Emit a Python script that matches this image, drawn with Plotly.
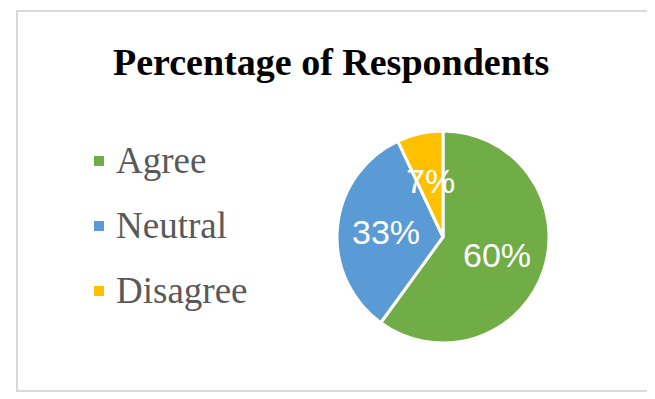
import math
import plotly.graph_objects as go

# Data
categories = ["Agree", "Neutral", "Disagree"]
values = [60, 33, 7]
colors = ["#70AD47", "#5B9BD5", "#FFC000"]
title_text = "Percentage of Respondents"

# The page body has an 8px margin; map window pixels into figure paper coords
OFF = 8
W, H = 655 - OFF, 399 - OFF


def px(x):
    return (x - OFF) / W


def py(y):
    return 1 - (y - OFF) / H


# Pie placement (window pixels)
PIE_L, PIE_R, PIE_T, PIE_B = 337, 549, 131, 343
CX, CY = (PIE_L + PIE_R) / 2, (PIE_T + PIE_B) / 2
RAD = (PIE_R - PIE_L) / 2
LABEL_FRAC = 0.54  # labels sit on each slice's bisector, like the source chart

fig = go.Figure()
fig.add_trace(go.Pie(
    labels=categories,
    values=values,
    sort=False,
    direction="clockwise",
    rotation=0,
    marker=dict(colors=colors, line=dict(color="white", width=3)),
    textinfo="none",
    domain=dict(x=[px(PIE_L), px(PIE_R)], y=[py(PIE_B), py(PIE_T)]),
    showlegend=False,
    hoverinfo="label+percent",
))

annotations = []
# Percentage labels placed along slice bisectors (computed from the values)
total = sum(values)
cum = 0
for v in values:
    mid = (cum + v / 2) / total * 2 * math.pi
    cum += v
    lx = CX + LABEL_FRAC * RAD * math.sin(mid)
    ly = CY - LABEL_FRAC * RAD * math.cos(mid)
    annotations.append(dict(text=f"{round(v / total * 100)}%", xref="paper", yref="paper",
                            x=px(lx), y=py(ly), xanchor="center", yanchor="middle",
                            showarrow=False,
                            font=dict(family="Liberation Sans", size=34, color="white")))

# Manual legend (squares + labels) driven by the categories/colors lists
legend_y = [160, 225, 290]
shapes = [dict(type="rect", xref="paper", yref="paper",
               x0=px(17), x1=px(648), y0=py(391), y1=py(11),
               line=dict(color="#D9D9D9", width=2), fillcolor="rgba(0,0,0,0)", layer="below")]
for cat, col, yy in zip(categories, colors, legend_y):
    shapes.append(dict(type="rect", xref="paper", yref="paper",
                       x0=px(94), x1=px(104), y0=py(yy + 6), y1=py(yy - 4),
                       line=dict(width=0), fillcolor=col))
    annotations.append(dict(text=cat, xref="paper", yref="paper",
                            x=px(114), y=py(yy), xanchor="left", yanchor="middle",
                            showarrow=False,
                            font=dict(family="Liberation Serif", size=37, color="#595959")))

annotations.append(dict(text="<b>" + title_text + "</b>", xref="paper", yref="paper",
                        x=px(331), y=py(62), xanchor="center", yanchor="middle",
                        showarrow=False,
                        font=dict(family="Liberation Serif", size=38, color="#000000")))

fig.update_layout(
    width=W, height=H,
    margin=dict(l=0, r=0, t=0, b=0),
    paper_bgcolor="white",
    plot_bgcolor="white",
    shapes=shapes,
    annotations=annotations,
    showlegend=False,
)

fig.write_html("out.html")
